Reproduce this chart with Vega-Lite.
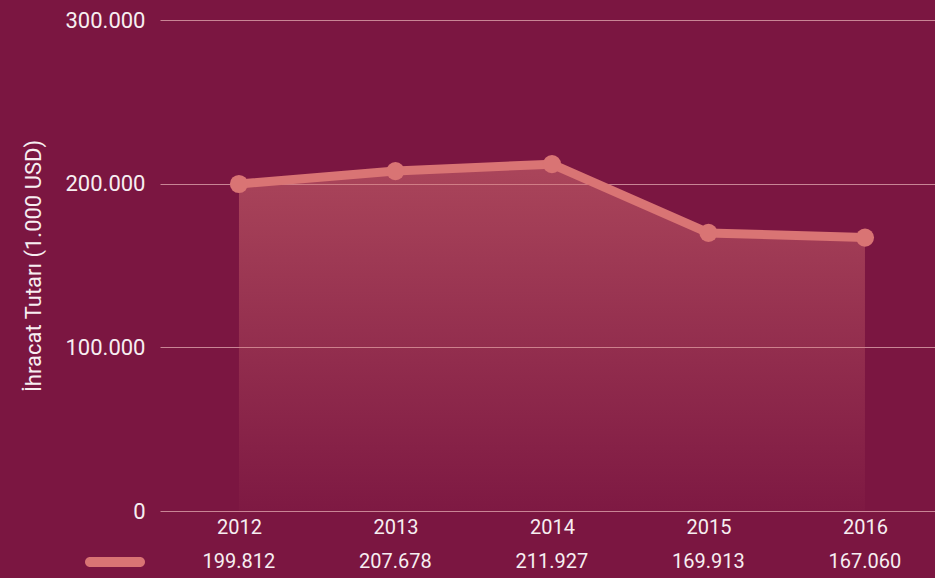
{
  "$schema": "https://vega.github.io/schema/vega-lite/v6.json",
  "width": 775,
  "height": 491,
  "autosize": {"type": "none"},
  "padding": {"left": 160, "top": 20, "right": 0, "bottom": 67},
  "background": "#7b1641",
  "config": {
    "locale": {"number": {"decimal": ",", "thousands": ".", "grouping": [3], "currency": ["", "₺"]}},
    "font": "Roboto",
    "view": {"stroke": null},
    "axis": {"labelColor": "#f7eef1", "labelFontSize": 20, "titleColor": "#f7eef1", "gridColor": "#c98595", "gridOpacity": 1, "domain": false, "ticks": false}
  },
  "data": {
    "values": [
      {"year": "2012", "value": 199812, "series": "İhracat"},
      {"year": "2013", "value": 207678, "series": "İhracat"},
      {"year": "2014", "value": 211927, "series": "İhracat"},
      {"year": "2015", "value": 169913, "series": "İhracat"},
      {"year": "2016", "value": 167060, "series": "İhracat"}
    ]
  },
  "encoding": {
    "x": {
      "field": "year",
      "type": "ordinal",
      "scale": {"type": "point", "padding": 0.476, "align": 0.53},
      "axis": {"title": null, "grid": false, "labelAngle": 0, "labelPadding": 6}
    }
  },
  "layer": [
    {
      "mark": {
        "type": "area",
        "color": {
          "gradient": "linear",
          "x1": 0, "y1": 0, "x2": 0, "y2": 1,
          "stops": [
            {"offset": 0, "color": "rgba(217,116,116,0.5)"},
            {"offset": 1, "color": "rgba(217,116,116,0.03)"}
          ]
        }
      },
      "encoding": {
        "y": {
          "field": "value",
          "type": "quantitative",
          "scale": {"domain": [0, 300000]},
          "axis": {
            "values": [0, 100000, 200000, 300000],
            "format": ",d",
            "grid": true,
            "labelFontSize": 22,
            "labelPadding": 15,
            "title": "İhracat Tutarı (1.000 USD)",
            "titleFontSize": 22,
            "titleFontWeight": "normal",
            "titlePadding": 20
          }
        }
      }
    },
    {
      "mark": {"type": "line", "strokeWidth": 9, "strokeCap": "round", "strokeJoin": "round", "color": "#d97474"},
      "encoding": {"y": {"field": "value", "type": "quantitative"}}
    },
    {
      "mark": {"type": "point", "filled": true, "size": 330, "opacity": 1},
      "encoding": {
        "y": {"field": "value", "type": "quantitative"},
        "color": {
          "field": "series",
          "type": "nominal",
          "scale": {"range": ["#d97474"]},
          "legend": {
            "orient": "none",
            "legendX": -70,
            "legendY": 517,
            "title": null,
            "labelExpr": "''",
            "symbolType": "M-1,-0.2H1A0.2,0.2,0,0,1,1,0.2H-1A0.2,0.2,0,0,1,-1,-0.2Z",
            "symbolSize": 2500,
            "symbolOpacity": 1,
            "symbolStrokeWidth": 0
          }
        }
      }
    },
    {
      "mark": {"type": "text", "dy": 51, "fontSize": 20, "color": "#f7eef1", "baseline": "middle"},
      "encoding": {
        "y": {"datum": 0},
        "text": {"field": "value", "type": "quantitative", "format": ",d"}
      }
    }
  ]
}
